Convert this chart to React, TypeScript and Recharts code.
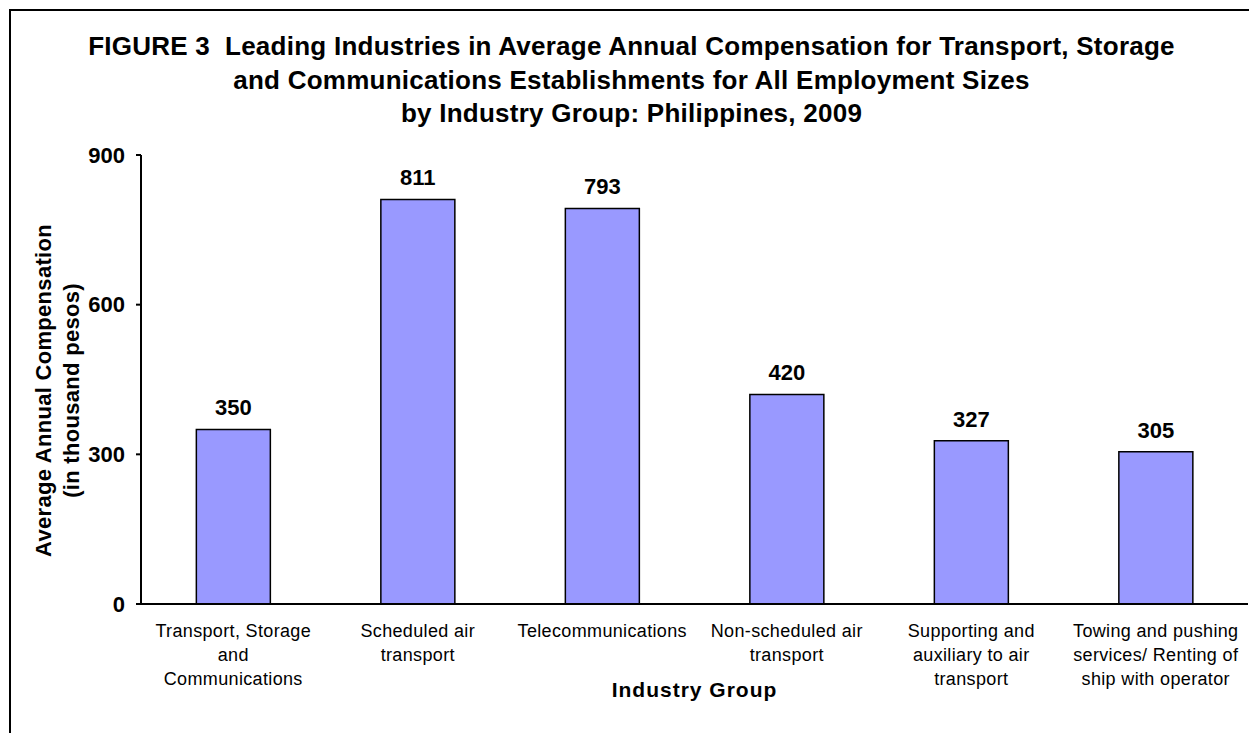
import React from 'react';
import { BarChart, Bar, XAxis, YAxis, LabelList, Label } from 'recharts';

const categories = [
  'Transport, Storage\nand\nCommunications',
  'Scheduled air\ntransport',
  'Telecommunications',
  'Non-scheduled air\ntransport',
  'Supporting and\nauxiliary to air\ntransport',
  'Towing and pushing\nservices/ Renting of\nship with operator',
];
const values = [350, 811, 793, 420, 327, 305];
const yTicks = [0, 300, 600, 900];
const boundaryTicks = [0, 1, 2, 3, 4, 5, 6];
const titleLines = [
  'FIGURE 3  Leading Industries in Average Annual Compensation for Transport, Storage',
  'and Communications Establishments for All Employment Sizes',
  'by Industry Group: Philippines, 2009',
];
const yLabelLines = ['Average Annual Compensation', '(in thousand pesos)'];
const xLabel = 'Industry Group';

const data = categories.map((c, i) => ({ idx: i + 0.5, name: c, value: values[i] }));

const FONT = '"Liberation Sans", Arial, Helvetica, sans-serif';

const CategoryTick = (props: any) => {
  const { x, y, payload } = props;
  const lines = String(payload.value).split('\n');
  return (
    <text x={x} y={y} textAnchor="middle" fontFamily={FONT} fontSize={18} letterSpacing={0.35} fill="#000">
      {lines.map((l, i) => (
        <tspan key={i} x={x} dy={i === 0 ? 25 : 24}>
          {l}
        </tspan>
      ))}
    </text>
  );
};

const YLabel = (props: any) => {
  const vb = props.viewBox || {};
  const cy = vb.y + vb.height / 2 + 11;
  const xs = [vb.x + 33, vb.x + 61];
  return (
    <g>
      {yLabelLines.map((l, i) => (
        <text
          key={i}
          x={xs[i]}
          y={cy}
          transform={`rotate(-90, ${xs[i]}, ${cy})`}
          textAnchor="middle"
          dominantBaseline="central"
          fontFamily={FONT}
          fontWeight="bold"
          fontSize={22}
          letterSpacing={0.3}
          fill="#000"
        >
          {l}
        </text>
      ))}
    </g>
  );
};

const XLabel = (props: any) => {
  const vb = props.viewBox || {};
  const cx = vb.x + vb.width / 2;
  return (
    <text
      x={cx}
      y={vb.y + 85}
      textAnchor="middle"
      dominantBaseline="central"
      fontFamily={FONT}
      fontWeight="bold"
      fontSize={21}
      letterSpacing={1}
      fill="#000"
    >
      {xLabel}
    </text>
  );
};

export default function App() {
  return (
    <div style={{ position: 'absolute', left: 0, top: 0, width: 1249, height: 733, overflow: 'hidden', background: '#fff' }}>
      <div
        style={{
          position: 'absolute',
          left: 9,
          top: 9,
          width: 1300,
          height: 800,
          border: '2px solid #000',
          boxSizing: 'border-box',
        }}
      />
      <div
        style={{
          position: 'absolute',
          left: 14,
          top: 30,
          width: 1235,
          textAlign: 'center',
          fontFamily: FONT,
          fontWeight: 'bold',
          fontSize: 26,
          letterSpacing: 0.25,
          lineHeight: '33.5px',
          color: '#000',
        }}
      >
        {titleLines.map((l, i) => (
          <div key={i} style={{ whiteSpace: 'pre' }}>{l}</div>
        ))}
      </div>
      <div style={{ position: 'absolute', left: 0, top: 0 }}>
        <BarChart
          width={1249}
          height={733}
          data={data}
          margin={{ top: 155, right: 1, bottom: 0, left: 10 }}
          barCategoryGap="30%"
        >
          <XAxis
            xAxisId="bounds"
            type="number"
            dataKey="idx"
            domain={[0, 6]}
            ticks={boundaryTicks}
            tick={false}
            tickSize={6}
            height={0}
            axisLine={{ stroke: '#000', strokeWidth: 2 }}
            tickLine={{ stroke: '#000', strokeWidth: 2 }}
          />
          <XAxis
            dataKey="name"
            interval={0}
            height={129}
            tick={<CategoryTick />}
            tickLine={false}
            axisLine={{ stroke: '#000', strokeWidth: 2 }}
          >
            <Label content={<XLabel />} />
          </XAxis>
          <YAxis
            width={131}
            domain={[0, 900]}
            ticks={yTicks}
            interval={0}
            tickSize={5}
            tickMargin={11}
            axisLine={{ stroke: '#000', strokeWidth: 2 }}
            tickLine={{ stroke: '#000', strokeWidth: 2 }}
            tick={{ fill: '#000', fontFamily: FONT, fontWeight: 'bold', fontSize: 22 }}
          >
            <Label content={<YLabel />} />
          </YAxis>
          <Bar dataKey="value" fill="#9999FF" stroke="#000" strokeWidth={1.5} isAnimationActive={false}>
            <LabelList
              dataKey="value"
              position="top"
              offset={14}
              fill="#000"
              fontFamily={FONT}
              fontWeight="bold"
              fontSize={22}
            />
          </Bar>
        </BarChart>
      </div>
    </div>
  );
}
